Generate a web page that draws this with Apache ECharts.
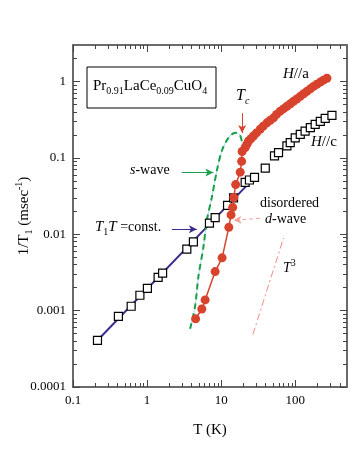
<!DOCTYPE html>
<html>
<head>
<meta charset="utf-8">
<script src="https://cdn.jsdelivr.net/npm/echarts@6/dist/echarts.min.js"></script>
<style>
html,body{margin:0;padding:0;background:#fff;}
#chart{width:354px;height:458px;}
</style>
</head>
<body>
<div id="chart"></div>
<script>
// ---- data ----
// H//c (open squares)
const hcT = [0.214, 0.41, 0.61, 0.80, 1.01, 1.41, 1.62, 3.44, 4.22, 6.95, 8.3, 12.2, 14.7, 21.1, 24.1, 28.2, 39.4, 52.5, 59.5, 77.2, 85.6, 100, 117, 136, 160, 186, 218, 254, 313];
const hcV = [0.000407, 0.00084, 0.00114, 0.00159, 0.00195, 0.00272, 0.00309, 0.0064, 0.00794, 0.0140, 0.0165, 0.0238, 0.030, 0.0478, 0.0513, 0.0555, 0.0735, 0.106, 0.117, 0.143, 0.158, 0.182, 0.203, 0.224, 0.248, 0.274, 0.30, 0.328, 0.36];
// H//a (filled circles)
const haT = [4.52, 5.48, 6.08, 8.3, 10.3, 12.7, 13.6, 14.3, 14.8, 15.7, 18.1, 18.9, 19.2, 21.1, 22.3, 23.4, 25.2, 27.3, 30, 33.6, 37, 41.5, 46, 51, 56, 62.7, 70, 77.3, 86, 94.9, 105, 117, 130, 144, 160, 177, 196, 218, 240, 268];
const haV = [0.00078, 0.00105, 0.00138, 0.00324, 0.00491, 0.0123, 0.0179, 0.0225, 0.0303, 0.0446, 0.0649, 0.090, 0.121, 0.136, 0.151, 0.166, 0.178, 0.193, 0.212, 0.236, 0.26, 0.287, 0.31, 0.334, 0.37, 0.408, 0.44, 0.473, 0.51, 0.55, 0.59, 0.638, 0.69, 0.742, 0.80, 0.861, 0.92, 0.98, 1.04, 1.10];
// s-wave curve (green dashed)
const sT = [3.81, 4.45, 4.93, 5.77, 6.41, 7.49, 8.75, 10.2, 12.6, 15.5, 17.7, 19.0, 19.6];
const sV = [0.000578, 0.00114, 0.00279, 0.00685, 0.0152, 0.0305, 0.0678, 0.123, 0.184, 0.213, 0.203, 0.166, 0.13];
// T1T = const. line
const fitT = [0.21, 24];
const fitV = [0.0004, 0.047];
// T^3 guide line
const cubeT = [26.8, 69.5];
const cubeV = [0.000488, 0.0089];
// arrows [T1, v1, T2, v2]
const arrowTc = [19.2, 0.384, 19.2, 0.211];
const arrowS = [2.94, 0.0645, 7.85, 0.0645];
const arrowFit = [2.16, 0.0116, 4.7, 0.0116];
const arrowD = [33.6, 0.0162, 14.7, 0.0152];
// ticks
const xMajor = [0.1, 1, 10, 100];
const yMajor = [0.0001, 0.001, 0.01, 0.1, 1];
const xMinor = [0.2,0.3,0.4,0.5,0.6,0.7,0.8,0.9, 2,3,4,5,6,7,8,9, 20,30,40,50,60,70,80,90, 200,300,400];
const yMinor = [0.0002,0.0003,0.0004,0.0005,0.0006,0.0007,0.0008,0.0009,
  0.002,0.003,0.004,0.005,0.006,0.007,0.008,0.009,
  0.02,0.03,0.04,0.05,0.06,0.07,0.08,0.09,
  0.2,0.3,0.4,0.5,0.6,0.7,0.8,0.9, 2];

const zip = (a, b) => a.map((v, i) => [v, b[i]]);
const RED = '#d8432e', GREEN = '#1a9e4a', PURPLE = '#3d2c8e', FRAME = '#6a6a6a';
const SERIF = '"Liberation Serif", "DejaVu Serif", serif';
const fmt = v => String(Number(Number(v).toPrecision(6)));

function xAx(pos, major) {
  return {
    type: 'log', logBase: 10, min: 0.1, max: 500, position: pos,
    axisLine: { show: major, onZero: false, lineStyle: { color: FRAME, width: 2 } },
    axisTick: { show: true, inside: true, length: major ? 7 : 4, customValues: major ? xMajor : xMinor, lineStyle: { color: '#444', width: 1 } },
    axisLabel: { show: major && pos === 'bottom', customValues: xMajor, formatter: fmt, margin: 7, color: '#000', fontFamily: SERIF, fontSize: 13 },
    splitLine: { show: false },
    name: (major && pos === 'bottom') ? 'T (K)' : '',
    nameLocation: 'middle', nameGap: 36,
    nameTextStyle: { color: '#000', fontFamily: SERIF, fontSize: 15 }
  };
}
function yAx(pos, major) {
  return {
    type: 'log', logBase: 10, min: 0.0001, max: 3, position: pos,
    axisLine: { show: major, onZero: false, lineStyle: { color: FRAME, width: 2 } },
    axisTick: { show: true, inside: true, length: major ? 7 : 4, customValues: major ? yMajor : yMinor, lineStyle: { color: '#444', width: 1 } },
    axisLabel: { show: major && pos === 'left', customValues: yMajor, formatter: fmt, margin: 7, color: '#000', fontFamily: SERIF, fontSize: 13 },
    splitLine: { show: false },
    name: (major && pos === 'left') ? '{m|1/T}{s|1}{m| (msec}{p|-1}{m|)}' : '',
    nameLocation: 'middle', nameGap: 39, nameRotate: 90, nameMoveOverlap: false,
    nameTextStyle: {
      color: '#000', fontFamily: SERIF, fontSize: 15,
      rich: {
        m: { fontFamily: SERIF, fontSize: 15, lineHeight: 20 },
        s: { fontFamily: SERIF, fontSize: 10, lineHeight: 20, verticalAlign: 'bottom', padding: [8, 0, 0, 0] },
        p: { fontFamily: SERIF, fontSize: 10, lineHeight: 20, verticalAlign: 'top', padding: [0, 0, 8, 0] }
      }
    }
  };
}
function arrowLine(a, color, type, width) {
  return {
    silent: true, symbol: ['none', 'arrow'], symbolSize: [6, 8],
    label: { show: false },
    lineStyle: { color: color, type: type, width: width },
    emphasis: { disabled: true },
    data: [[{ coord: [a[0], a[1]] }, { coord: [a[2], a[3]] }]]
  };
}

const txt = (left, top, text, rich, fill) => ({
  type: 'text', left: left, top: top, z: 100,
  style: { text: text, rich: rich, fill: fill, font: '14px ' + SERIF }
});
const rs = (size, color, italic, extra) => Object.assign({ fontFamily: SERIF, fontSize: size, color: color, fontStyle: italic ? 'italic' : 'normal', lineHeight: 20 }, extra || {});
const subA = { verticalAlign: 'bottom', padding: [8, 0, 0, 0] };
const supA = { verticalAlign: 'top', padding: [0, 0, 8, 0] };

const chart = echarts.init(document.getElementById('chart'), null, { renderer: 'canvas' });
chart.setOption({
  animation: false,
  backgroundColor: '#fff',
  grid: { left: 73, right: 7, top: 45, bottom: 71, containLabel: false, outerBoundsMode: 'none' },
  xAxis: [xAx('bottom', true), xAx('bottom', false), xAx('top', true), xAx('top', false)],
  yAxis: [yAx('left', true), yAx('left', false), yAx('right', true), yAx('right', false)],
  series: [
    { name: 'fit', type: 'line', data: zip(fitT, fitV), symbol: 'none', lineStyle: { color: PURPLE, width: 2 }, z: 2,
      markLine: arrowLine(arrowFit, PURPLE, 'solid', 1) },
    { name: 'swave-under', type: 'line', smooth: 0.3, data: zip(sT, sV), symbol: 'none', lineStyle: { color: '#a9dcee', width: 1 }, z: 2 },
    { name: 'swave', type: 'line', smooth: 0.3, data: zip(sT, sV), symbol: 'none', lineStyle: { color: GREEN, width: 2, type: [6, 4] }, z: 3,
      markLine: arrowLine(arrowS, GREEN, 'solid', 1) },
    { name: 'cube', type: 'line', data: zip(cubeT, cubeV), symbol: 'none', lineStyle: { color: '#ee8c82', width: 1, type: [7, 3, 2, 3] }, z: 2,
      markLine: arrowLine(arrowD, '#f2a49c', [4, 3], 1) },
    { name: 'H//c', type: 'scatter', data: zip(hcT, hcV), symbol: 'rect', symbolSize: 8,
      itemStyle: { color: '#ffffff', opacity: 1, borderColor: '#000', borderWidth: 1.2 }, z: 4 },
    { name: 'H//a', type: 'line', data: zip(haT, haV), symbol: 'circle', symbolSize: 9, showSymbol: true,
      lineStyle: { color: RED, width: 1.5 }, itemStyle: { color: RED }, z: 5,
      markLine: arrowLine(arrowTc, RED, 'solid', 1) }
  ],
  graphic: [
    { type: 'rect', shape: { x: 87, y: 67, width: 129, height: 41 }, style: { fill: '#fff', stroke: '#000', lineWidth: 1 }, z: 99 },
    txt(93, 78, '{m|Pr}{s|0.91}{m|LaCe}{s|0.09}{m|CuO}{s|4}', { m: rs(15, '#000', false), s: rs(10, '#000', false, subA) }),
    txt(283, 67, '{i|H}{m|//a}', { i: rs(15, RED, true), m: rs(15, RED, false) }),
    txt(236, 88, '{i|T}{s|c}', { i: rs(16, RED, true), s: rs(10, RED, true, subA) }),
    txt(311, 135, '{i|H}{m|//c}', { i: rs(15, '#000', true), m: rs(15, '#000', false) }),
    txt(130, 163, '{i|s}{m|-wave}', { i: rs(14, GREEN, true), m: rs(14, GREEN, false) }),
    txt(95, 219, '{i|T}{s|1}{i|T}{m| =const.}', { i: rs(15, PURPLE, true), s: rs(10, PURPLE, false, subA), m: rs(14, PURPLE, false) }),
    txt(260, 196, '{m|disordered}', { m: rs(14, RED, false) }),
    txt(265, 212, '{i|d}{m|-wave}', { i: rs(14, RED, true), m: rs(14, RED, false) }),
    txt(283, 258, '{i|T}{p|3}', { i: rs(14, RED, true), p: rs(10, RED, false, supA) })
  ]
});
</script>
</body>
</html>
